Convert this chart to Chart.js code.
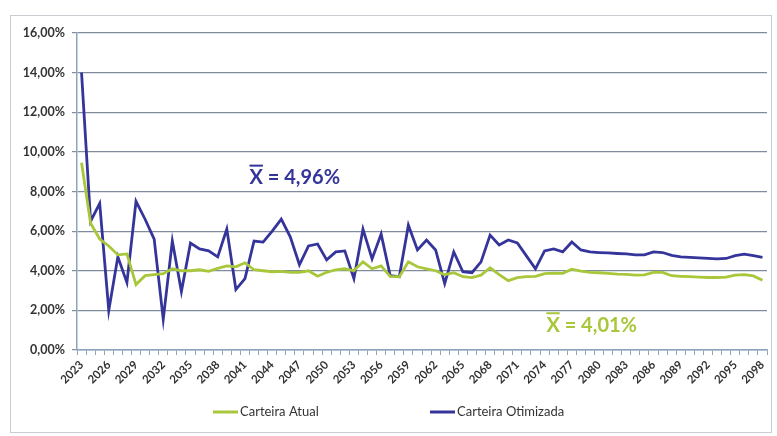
<!DOCTYPE html>
<html>
<head>
<meta charset="utf-8">
<script src="https://cdn.jsdelivr.net/npm/chart.js@4"></script>
<style>
  html, body { margin: 0; padding: 0; background: #fff; }
  #wrap { position: relative; width: 777px; height: 436px; }
</style>
</head>
<body>
<div id="wrap"><canvas id="rentChart" width="777" height="436"></canvas></div>
<script>
// years 2023..2098
const years = [];
for (let y = 2023; y <= 2098; y++) years.push(String(y));

const carteiraAtual = [
  9.45, 6.4, 5.6, 5.25, 4.8, 4.85, 3.3, 3.75, 3.8, 3.85,
  4.1, 4.0, 4.0, 4.05, 3.97, 4.12, 4.25, 4.2, 4.4, 4.05,
  4.0, 3.95, 3.97, 3.92, 3.92, 4.0, 3.72, 3.92, 4.05, 4.1,
  4.0, 4.45, 4.1, 4.25, 3.72, 3.7, 4.45, 4.2, 4.1, 4.0,
  3.8, 3.9, 3.7, 3.65, 3.78, 4.15, 3.8, 3.5, 3.65, 3.7,
  3.72, 3.85, 3.88, 3.87, 4.08, 3.98, 3.92, 3.9, 3.87, 3.83,
  3.82, 3.78, 3.79, 3.92, 3.92, 3.75, 3.72, 3.7, 3.68, 3.66,
  3.66, 3.68, 3.78, 3.8, 3.74, 3.52
];

const carteiraOtimizada = [
  14.0, 6.5, 7.4, 2.0, 4.7, 3.4, 7.5, 6.6, 5.6, 1.55,
  5.5, 2.95, 5.4, 5.1, 5.0, 4.7, 6.1, 3.05, 3.6, 5.5,
  5.45, 6.0, 6.6, 5.7, 4.3, 5.25, 5.35, 4.55, 4.95, 5.0,
  3.6, 6.1, 4.6, 5.85, 3.75, 3.7, 6.3, 5.05, 5.55, 5.05,
  3.35, 4.95, 3.95, 3.9, 4.45, 5.8, 5.3, 5.55, 5.4, 4.75,
  4.1, 5.0, 5.1, 4.95, 5.45, 5.05, 4.95, 4.92, 4.9, 4.87,
  4.85, 4.8, 4.8, 4.95, 4.92, 4.78, 4.7, 4.68, 4.65, 4.62,
  4.6, 4.62, 4.76, 4.84, 4.76, 4.68
];

const yTicks = [0, 2, 4, 6, 8, 10, 12, 14, 16];

// mean labels: [text, category index, value]
const meanOtimizada = ["4,96%", 18.5, 8.7];
const meanAtual = ["4,01%", 51.2, 1.25];

const GREEN = "#a9c73a";
const BLUE = "#34349a";
const FONT = "Lato, 'Open Sans', sans-serif";

const fmtPct = (v) => v.toFixed(2).replace(".", ",") + "%";

const extras = {
  id: "extras",
  beforeDraw(chart) {
    const c = chart.ctx;
    c.save();
    c.strokeStyle = "#c9ccd0";
    c.lineWidth = 1;
    c.strokeRect(10.5, 15.5, 761, 417);
    c.restore();
  },
  afterDraw(chart) {
    const c = chart.ctx;
    const xs = chart.scales.x;
    const ys = chart.scales.y;

    // mean annotations
    const drawMean = (m, color) => {
      const px = xs.getPixelForValue(m[1]);
      const py = ys.getPixelForValue(m[2]);
      c.save();
      c.font = "bold 20px " + FONT;
      c.fillStyle = color;
      c.textBaseline = "middle";
      c.fillText("X = " + m[0], px, py);
      const w = c.measureText("X").width;
      c.fillRect(px, py - 13, w, 2);
      c.restore();
    };
    drawMean(meanOtimizada, BLUE);
    drawMean(meanAtual, GREEN);

    // legend
    const items = chart.data.datasets;
    const starts = [213, 430];
    c.save();
    c.font = "13px " + FONT;
    c.textBaseline = "middle";
    items.forEach((ds, i) => {
      const lx = starts[i];
      const ly = 412;
      c.strokeStyle = ds.borderColor;
      c.lineWidth = 3;
      c.beginPath();
      c.moveTo(lx, ly);
      c.lineTo(lx + 25, ly);
      c.stroke();
      c.fillStyle = "#333";
      c.fillText(ds.label, lx + 27, ly);
    });
    c.restore();
  }
};

const ctx = document.getElementById("rentChart").getContext("2d");
const rentChart = new Chart(ctx, {
  type: "line",
  data: {
    labels: years,
    datasets: [
      {
        label: "Carteira Atual",
        data: carteiraAtual,
        borderColor: GREEN,
        backgroundColor: GREEN,
        borderWidth: 2.8,
        pointRadius: 0,
        tension: 0,
      },
      {
        label: "Carteira Otimizada",
        data: carteiraOtimizada,
        borderColor: BLUE,
        backgroundColor: BLUE,
        borderWidth: 2.8,
        pointRadius: 0,
        tension: 0,
      },
    ],
  },
  options: {
    responsive: false,
    animation: false,
    layout: { padding: { left: 10, right: 10, top: 33, bottom: 40 } },
    plugins: {
      legend: { display: false },
      tooltip: { enabled: false },
    },
    scales: {
      x: {
        offset: true,
        grid: {
          offset: true,
          drawOnChartArea: false,
          color: "#8da4bd",
          tickLength: 5,
        },
        border: { color: "#8da4bd", width: 1.5 },
        ticks: {
          autoSkip: false,
          minRotation: 45,
          maxRotation: 45,
          color: "#333",
          font: { family: FONT, size: 11.5, weight: "bold" },
          callback: (v, i) => (i % 3 === 0 ? years[i] : ""),
        },
        afterFit: (s) => { s.height = 46; },
      },
      y: {
        min: 0,
        max: 16,
        afterBuildTicks: (s) => { s.ticks = yTicks.map((v) => ({ value: v })); },
        grid: { color: "#7f8c9c", lineWidth: 1.2, tickLength: 5 },
        border: { color: "#8da4bd", width: 1.5 },
        ticks: {
          color: "#333",
          padding: 7,
          font: { family: FONT, size: 12.5, weight: "bold" },
          callback: (v) => fmtPct(v),
        },
        afterFit: (s) => { s.width = 67; },
      },
    },
  },
  plugins: [extras],
});
</script>
</body>
</html>
